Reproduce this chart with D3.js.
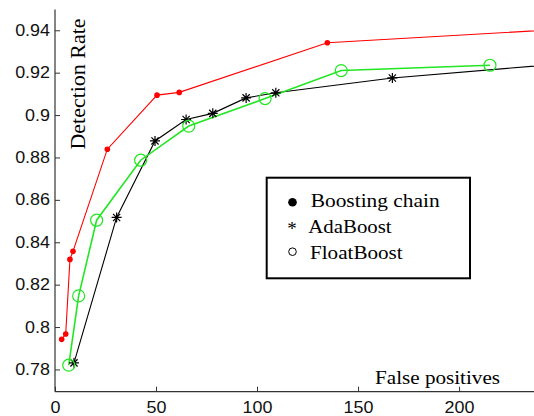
<!DOCTYPE html>
<html><head><meta charset="utf-8">
<script src="https://cdn.jsdelivr.net/npm/d3@7"></script>
<style>html,body{margin:0;padding:0;background:#fff;}svg{display:block;}</style>
</head><body>
<svg id="chart" width="534" height="416"></svg>
<script>
// ---- data ----
const seriesNames = ["Boosting chain", "AdaBoost", "FloatBoost"];
const chainX = [3.3, 5.3, 7.4, 8.9, 25.9, 50.5, 61.5, 134.8, 250];
const chainY = [0.7942, 0.7967, 0.8319, 0.8357, 0.8839, 0.9094, 0.9107, 0.9341, 0.9404];
const adaX = [9.4, 30.5, 49.5, 64.9, 78.1, 94.6, 109.3, 167.0, 250];
const adaY = [0.7831, 0.8517, 0.8878, 0.8979, 0.9008, 0.9081, 0.9105, 0.9175, 0.9241];
const floatX = [6.8, 11.7, 20.6, 42.4, 66.2, 104.0, 141.7, 215.3];
const floatY = [0.7820, 0.8147, 0.8504, 0.8787, 0.8948, 0.9078, 0.9210, 0.9235];
const xTicks = [0, 50, 100, 150, 200];
const yTicks = [0.78, 0.80, 0.82, 0.84, 0.86, 0.88, 0.90, 0.92, 0.94];
const yTickLabels = ["0.78", "0.8", "0.82", "0.84", "0.86", "0.88", "0.9", "0.92", "0.94"];
const xLabel = "False positives";
const yLabel = "Detection Rate";

const svg = d3.select("#chart");
const L = 55, R = 534, T = 9.5, B = 391.7;
const x = d3.scaleLinear().domain([0, 237.1]).range([L, R]);
const y = d3.scaleLinear().domain([0.7695, 0.9498]).range([B, T]);

svg.append("defs").append("clipPath").attr("id", "clip")
  .append("rect").attr("x", L).attr("y", 0).attr("width", R - L + 10).attr("height", B + 5);

function stretch(sel, f) {
  sel.each(function () {
    const w = this.getComputedTextLength();
    d3.select(this).attr("textLength", w * f).attr("lengthAdjust", "spacingAndGlyphs");
  });
}

// axes
const xAxis = svg.append("g").attr("transform", `translate(0,${B})`)
  .call(d3.axisBottom(x).tickValues(xTicks).tickFormat(d3.format("d")).tickSize(-5).tickSizeOuter(0).tickPadding(10));
const yAxis = svg.append("g").attr("transform", `translate(${L},0)`)
  .call(d3.axisLeft(y).tickValues(yTicks).tickFormat((d, i) => yTickLabels[i]).tickSize(-5).tickSizeOuter(0).tickPadding(5));
[xAxis, yAxis].forEach(a => {
  a.select(".domain").attr("stroke", "#333").attr("stroke-width", 1.2);
  a.selectAll(".tick line").attr("stroke", "#333");
  a.selectAll(".tick text").attr("font-family", "Liberation Sans, Arial, sans-serif")
    .attr("font-size", 16).attr("fill", "#111");
});
yAxis.select(".domain").attr("d", `M0,${B}V${T}`);
xAxis.select(".domain").attr("d", `M${L},0H${R}`);
stretch(xAxis.selectAll(".tick text"), 1.12);
stretch(yAxis.selectAll(".tick text"), 1.12);

// lines
const plot = svg.append("g").attr("clip-path", "url(#clip)");
const line = d3.line().x(d => x(d[0])).y(d => y(d[1]));
const chain = chainX.map((v, i) => [v, chainY[i]]);
const ada = adaX.map((v, i) => [v, adaY[i]]);
const flt = floatX.map((v, i) => [v, floatY[i]]);

plot.append("path").datum(ada).attr("d", line).attr("fill", "none").attr("stroke", "#000").attr("stroke-width", 1.1);
plot.append("path").datum(flt).attr("d", line).attr("fill", "none").attr("stroke", "#22e622").attr("stroke-width", 1.6);
plot.append("path").datum(chain).attr("d", line).attr("fill", "none").attr("stroke", "#ff0000").attr("stroke-width", 1.1);

// markers
plot.selectAll(".star").data(ada).join("path").attr("class", "star")
  .attr("transform", d => `translate(${x(d[0])},${y(d[1])})`)
  .attr("d", () => { const r = 5, s = 3.6; return `M${-r},0H${r}M0,${-r}V${r}M${-s},${-s}L${s},${s}M${-s},${s}L${s},${-s}`; })
  .attr("stroke", "#000").attr("stroke-width", 1.2).attr("fill", "none");
plot.selectAll(".circ").data(flt).join("circle").attr("class", "circ")
  .attr("cx", d => x(d[0])).attr("cy", d => y(d[1])).attr("r", 6)
  .attr("fill", "none").attr("stroke", "#22e622").attr("stroke-width", 1.2);
plot.selectAll(".dot").data(chain).join("circle").attr("class", "dot")
  .attr("cx", d => x(d[0])).attr("cy", d => y(d[1])).attr("r", 2.8)
  .attr("fill", "#ff0000");

// axis titles
const serif = "Liberation Serif, Times New Roman, serif";
svg.append("text").attr("x", 375).attr("y", 383.5).attr("font-family", serif).attr("font-size", 18)
  .attr("textLength", 125).attr("lengthAdjust", "spacingAndGlyphs").text(xLabel);
svg.append("text").attr("transform", "translate(85,84) rotate(-90)").attr("text-anchor", "middle")
  .attr("font-family", serif).attr("font-size", 21)
  .attr("textLength", 131).attr("lengthAdjust", "spacingAndGlyphs").text(yLabel);

// legend
const lg = svg.append("g");
lg.append("rect").attr("x", 266.7).attr("y", 177.7).attr("width", 203.3).attr("height", 100.6)
  .attr("fill", "#fff").attr("stroke", "#000").attr("stroke-width", 2);
const legBase = [207.3, 233.3, 259.3];
const legX = [310.7, 308.3, 310];
const legW = [129, 83.3, 92.7];
seriesNames.forEach((n, i) => {
  lg.append("text").attr("x", legX[i]).attr("y", legBase[i]).attr("font-family", serif).attr("font-size", 18.5)
    .attr("textLength", legW[i]).attr("lengthAdjust", "spacingAndGlyphs").text(n);
});
lg.append("circle").attr("cx", 292.5).attr("cy", 202.3).attr("r", 4.3).attr("fill", "#000");
lg.append("text").attr("x", 292).attr("y", 235).attr("text-anchor", "middle").attr("font-family", serif)
  .attr("font-size", 19).text("*");
lg.append("circle").attr("cx", 292.5).attr("cy", 251.7).attr("r", 3.8).attr("fill", "none").attr("stroke", "#000").attr("stroke-width", 1);
</script>
</body></html>
